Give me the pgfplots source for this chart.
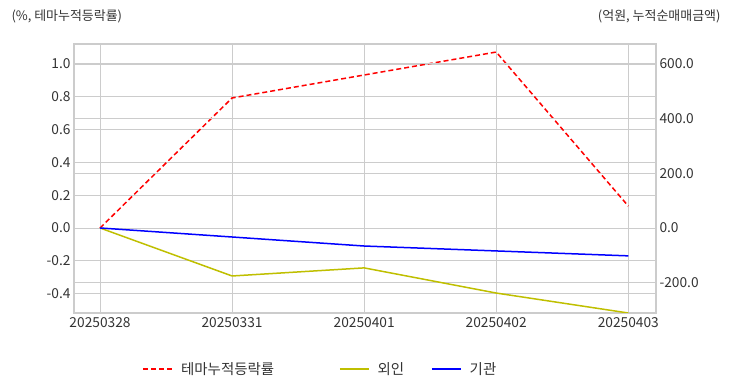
\documentclass[border=0pt]{standalone}
\usepackage{fontspec}
\setmainfont{Noto Sans CJK KR}
\usepackage{pgfplots}
\pgfplotsset{compat=1.18}
\definecolor{gridc}{HTML}{CCCCCC}
\definecolor{txt}{HTML}{333333}
\definecolor{oliveY}{HTML}{BFBF00}
\definecolor{redR}{HTML}{FF0000}
\definecolor{blueB}{HTML}{0000FF}
\begin{document}
\begin{tikzpicture}
\useasboundingbox (0,0) rectangle (732bp,392bp);
\pgfplotsset{
  every axis/.append style={
    scale only axis, width=582bp, height=269bp,
    at={(74bp,79bp)}, anchor=south west,
    xmin=-0.197, xmax=4.21,
    axis line style={gridc, line width=1.2bp},
    tick style={draw=none},
    ticklabel style={font=\fontsize{13.8}{15}\selectfont, text=txt},
    /pgf/number format/assume math mode=true,
    grid style={gridc, line width=0.9bp},
    xtick={0,1,2,3,4},
    xticklabels={20250328,20250331,20250401,20250402,20250403},
  },
}
\begin{axis}[
  ymin=-0.518, ymax=1.122,
  ytick={-0.4,-0.2,0,0.2,0.4,0.6,0.8,1.0},
  yticklabel style={/pgf/number format/.cd, fixed, fixed zerofill, precision=1},
  xticklabel style={yshift=-1bp},
  xmajorgrids, ymajorgrids,
  legend style={at={(0.4235,-0.208)}, anchor=center, draw=none, fill=none,
    font=\fontsize{14.5}{16}\selectfont, text=txt, legend columns=3,
    /tikz/every odd column/.append style={column sep=6bp},
    /tikz/every even column/.append style={column sep=25bp}},
  legend image code/.code={\draw[#1] (0bp,0bp) -- (29bp,0bp);},
]
\addplot[redR, line width=1.5bp, dash pattern=on 5bp off 3bp] coordinates {(0,0) (1,0.793) (2,0.933) (3,1.073) (4,0.134)};
\addlegendentry{테마누적등락률\rule{38bp}{0pt}}
\addlegendimage{oliveY, line width=1.5bp}
\addlegendentry{외인}
\addlegendimage{blueB, line width=1.5bp}
\addlegendentry{기관}
\end{axis}
\begin{axis}[
  axis y line*=right, axis x line=none,
  ymin=-311, ymax=673,
  ytick={-200,0,200,400,600},
  yticklabel style={/pgf/number format/.cd, fixed, fixed zerofill, precision=1},
  ymajorgrids,
]
\addplot[oliveY, line width=1.5bp] coordinates {(0,0) (1,-175.6) (2,-146) (3,-238) (4,-311)};
\addplot[blueB, line width=1.5bp] coordinates {(0,0) (1,-33) (2,-66) (3,-84) (4,-102)};
\end{axis}
\node[anchor=west, font=\fontsize{13}{15}\selectfont, text=txt] at (8bp,376bp) {(\%, 테마누적등락률)};
\node[anchor=east, font=\fontsize{13}{15}\selectfont, text=txt] at (724bp,376bp) {(억원, 누적순매매금액)};
\end{tikzpicture}
\end{document}
